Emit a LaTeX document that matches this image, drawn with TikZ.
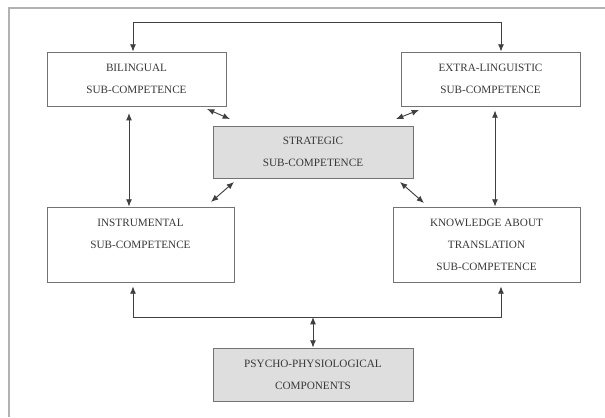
\documentclass[tikz,border=0pt]{standalone}
\usepackage{fontspec}
\setmainfont{Liberation Serif}
\usepackage{tikz}
\usetikzlibrary{arrows.meta}

\tikzset{
    subbox/.style={draw=black!55, line width=0.6pt, inner sep=0pt, align=center, text=black!78,
        font=\fontsize{8.4}{16.5}\selectfont},
    link/.style={{Latex[length=5.5pt,width=4.5pt]}-{Latex[length=5.5pt,width=4.5pt]},
        line width=0.7pt, color=black!75}
}

\begin{document}
\begin{tikzpicture}[x=0.75pt,y=-0.75pt]
        \useasboundingbox (0,0) rectangle (605,417);
        \draw[line width=1.1pt, color=black!30] (605,8) -- (9,8) -- (9,417); % frame

        % the six boxes
        \node[subbox, minimum width=134.25pt, minimum height=40.5pt] (bil) at (136.5,79)
        {BILINGUAL\\SUB-COMPETENCE};
        \node[subbox, minimum width=134.25pt, minimum height=40.5pt] (extra) at (490.5,79)
        {EXTRA-LINGUISTIC\\SUB-COMPETENCE};
        \node[subbox, fill=black!13, minimum width=150pt, minimum height=39pt] (strat) at (313,152)
        {STRATEGIC\\SUB-COMPETENCE};
        \node[subbox, minimum width=140.25pt, minimum height=56.25pt] (instr) at (140.5,244.5)
        {INSTRUMENTAL\\SUB-COMPETENCE\\~};
        \node[subbox, minimum width=140.25pt, minimum height=56.25pt] (know) at (486.5,244.5)
        {KNOWLEDGE ABOUT\\TRANSLATION\\SUB-COMPETENCE};
        \node[subbox, fill=black!13, minimum width=150pt, minimum height=39.75pt] (psy) at (313,374.5)
        {PSYCHO-PHYSIOLOGICAL\\COMPONENTS};

        % corners and columns of the connectors
        \coordinate (tl) at (133,22);
        \coordinate (tr) at (501,22);
        \coordinate (bl) at (133,317);
        \coordinate (br) at (501,317);
        \coordinate (vl) at (129,0);
        \coordinate (vr) at (495,0);

        \draw[link] (tl |- bil.north) -- (tl) -- (tr) -- (tr |- extra.north);
        \draw[link, shorten <=5pt] (vl |- bil.south) -- (vl |- instr.north);
        \draw[link, shorten <=3pt] (vr |- extra.south) -- (vr |- know.north);
        \draw[link, shorten <=3pt, shorten >=3pt] (bl |- instr.south) -- (bl) -- (br) -- (br |- know.south);
        \draw[link] (psy.north |- bl) -- (psy.north);

        % short arrows round the strategic box
        \draw[link] (207,109) -- (230,119);
        \draw[link] (396,119) -- (419,110);
        \draw[link] (234,182) -- (211,202);
        \draw[link] (400,182) -- (424,203);
\end{tikzpicture}
\end{document}
